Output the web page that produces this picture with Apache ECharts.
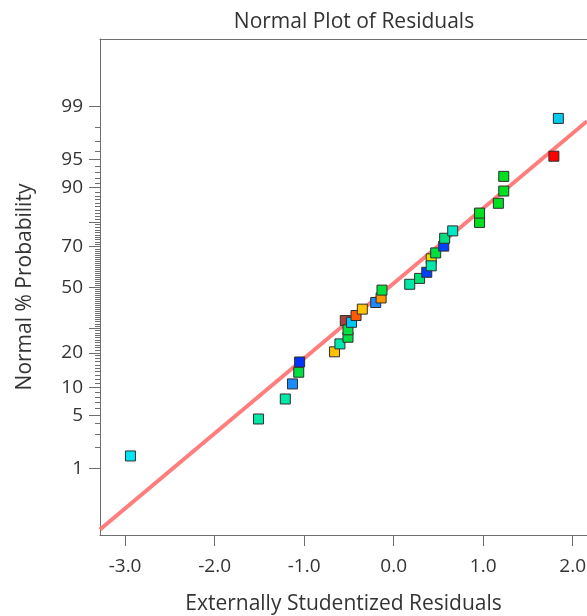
<!DOCTYPE html>
<html>
<head>
<meta charset="utf-8">
<script src="https://cdn.jsdelivr.net/npm/echarts@6/dist/echarts.min.js"></script>
<style>html,body{margin:0;padding:0;background:#fff;}#c{width:587px;height:616px;}</style>
</head>
<body>
<div id="c"></div>
<script>
// Residuals (x) and normal probability in percent (y)
const residuals = [-2.94, -1.51, -1.21, -1.13, -1.06, -1.05, -0.66, -0.60, -0.51, -0.51, -0.47, -0.54, -0.42, -0.35, -0.20, -0.14, -0.13, 0.18, 0.29, 0.37, 0.42, 0.42, 0.47, 0.56, 0.57, 0.66, 0.96, 0.96, 1.17, 1.23, 1.23, 1.79, 1.84];
const probabilities = [1.52, 4.55, 7.59, 10.75, 13.8, 16.9, 20.4, 23.4, 26.1, 29.3, 32.7, 33.5, 35.9, 39.0, 42.3, 44.6, 48.6, 51.6, 54.6, 57.7, 60.9, 64.3, 67.1, 70.2, 73.6, 76.6, 79.8, 83.0, 86.0, 89.2, 92.3, 95.4, 98.5];
const pointColors = ['#00e4f4', '#00e8a8', '#00e8a8', '#1a8cff', '#00e040', '#0034ff', '#ffc000', '#00e8b0', '#00e040', '#00e040', '#00c8ff', '#b03c3c', '#ff5a00', '#ffc400', '#1a8cff', '#ff9400', '#00e040', '#00e8a8', '#00e070', '#0040ff', '#00e8a8', '#e8e000', '#00e040', '#0040ff', '#00e080', '#00e8c8', '#00e020', '#00e020', '#00e020', '#00e020', '#00e020', '#ff0000', '#00ccee'];
// draw order (hidden markers first)
const drawOrder = [11, 21, 0, 1, 2, 3, 4, 5, 6, 7, 8, 9, 10, 12, 13, 14, 15, 16, 17, 18, 19, 20, 22, 23, 24, 25, 26, 27, 28, 29, 30, 31, 32];
// Fit line endpoints: residual, percent
const fitLineResid = [-3.28, 2.16];
const fitLinePct = [0.0939, 98.36];
// Axis ticks
const xTickValues = [-3, -2, -1, 0, 1, 2];
const yLabelPcts = [1, 5, 10, 20, 50, 70, 90, 95, 99];
const yMediumPcts = [30, 80];
const yMinorPcts = [2,3,4,6,7,8,9,11,12,13,14,15,16,17,18,19,21,22,23,24,25,26,27,28,29,31,32,33,34,35,36,37,38,39,40,41,42,43,44,45,46,47,48,49,51,52,53,54,55,56,57,58,59,60,61,62,63,64,65,66,67,68,69,71,72,73,74,75,76,77,78,79,81,82,83,84,85,86,87,88,89,91,92,93,94,96,97,98];

// probit (inverse normal CDF), Acklam
function probit(p) {
  const a=[-3.969683028665376e+01,2.209460984245205e+02,-2.759285104469687e+02,1.383577518672690e+02,-3.066479806614716e+01,2.506628277459239e+00];
  const b=[-5.447609879822406e+01,1.615858368580409e+02,-1.556989798598866e+02,6.680131188771972e+01,-1.328068155288572e+01];
  const c=[-7.784894002430293e-03,-3.223964580411365e-01,-2.400758277161838e+00,-2.549732539343734e+00,4.374664141464968e+00,2.938163982698783e+00];
  const d=[7.784695709041462e-03,3.224671290700398e-01,2.445134137142996e+00,3.754408661907416e+00];
  const pl=0.02425, ph=1-pl; let q,r;
  if (p<pl){q=Math.sqrt(-2*Math.log(p));return (((((c[0]*q+c[1])*q+c[2])*q+c[3])*q+c[4])*q+c[5])/((((d[0]*q+d[1])*q+d[2])*q+d[3])*q+1);}
  if (p<=ph){q=p-0.5;r=q*q;return (((((a[0]*r+a[1])*r+a[2])*r+a[3])*r+a[4])*r+a[5])*q/(((((b[0]*r+b[1])*r+b[2])*r+b[3])*r+b[4])*r+1);}
  q=Math.sqrt(-2*Math.log(1-p));return -(((((c[0]*q+c[1])*q+c[2])*q+c[3])*q+c[4])*q+c[5])/((((d[0]*q+d[1])*q+d[2])*q+d[3])*q+1);
}
const z = pct => probit(pct/100);

const FONT = '"Open Sans", "Noto Sans", sans-serif';
const TXT = '#333333';
const AX = '#6e6e6e';

const scatterData = drawOrder.map(i => ({
  value: [residuals[i], z(probabilities[i])],
  itemStyle: { color: pointColors[i] }
}));

const labelZ = yLabelPcts.map(z);
const X_MIN = -3.28, X_MAX = 2.16, Y_MIN = -3.18, Y_MAX = 3.19;
const chart = echarts.init(document.getElementById('c'), null, {renderer: 'canvas'});
chart.setOption({
  animation: false,
  backgroundColor: '#fff',
  title: {
    text: 'Normal Plot of Residuals',
    left: 349, top: 7, textAlign: 'center',
    textStyle: { fontFamily: FONT, fontSize: 21, fontWeight: 'normal', color: TXT }
  },
  grid: { left: 100, right: 0, top: 39, bottom: 81, show: false, containLabel: false, outerBoundsMode: 'none' },
  xAxis: [{
    type: 'value', min: X_MIN, max: X_MAX, position: 'bottom',
    name: 'Externally Studentized Residuals', nameLocation: 'middle', nameGap: 59,
    nameTextStyle: { fontFamily: FONT, fontSize: 21, color: TXT },
    axisLine: { show: true, onZero: false, lineStyle: { color: AX, width: 1 } },
    axisTick: { show: true, length: 11, customValues: xTickValues, lineStyle: { color: AX } },
    axisLabel: { customValues: xTickValues, margin: 22, fontFamily: FONT, fontSize: 19, color: TXT, formatter: v => v.toFixed(1) },
    splitLine: { show: false }
  }, {
    type: 'value', min: X_MIN, max: X_MAX, position: 'top',
    axisLine: { show: true, onZero: false, lineStyle: { color: AX, width: 1 } },
    axisTick: { show: false }, axisLabel: { show: false }, splitLine: { show: false }
  }],
  yAxis: [{
    type: 'value', min: Y_MIN, max: Y_MAX, position: 'left',
    name: 'Normal % Probability', nameLocation: 'middle', nameGap: 64,
    nameTextStyle: { fontFamily: FONT, fontSize: 21, color: TXT },
    axisLine: { show: true, onZero: false, lineStyle: { color: AX, width: 1 } },
    axisTick: { show: true, length: 11, customValues: labelZ.concat(yMediumPcts.map(z)), lineStyle: { color: AX } },
    axisLabel: { customValues: labelZ, margin: 17, fontFamily: FONT, fontSize: 19, color: TXT,
      formatter: v => { let best = yLabelPcts[0], bd = 1e9; yLabelPcts.forEach(p => { const d = Math.abs(z(p) - v); if (d < bd) { bd = d; best = p; } }); return String(best); } },
    splitLine: { show: false }
  }, {
    type: 'value', min: Y_MIN, max: Y_MAX, position: 'left', offset: 0,
    axisLine: { show: false, onZero: false },
    axisTick: { show: true, length: 5, customValues: yMinorPcts.map(z), lineStyle: { color: AX } },
    axisLabel: { show: false },
    splitLine: { show: false }
  }],
  series: [{
    type: 'line',
    data: fitLineResid.map((r, i) => [r, z(fitLinePct[i])]),
    symbol: 'none', clip: true,
    lineStyle: { color: '#ff7676', width: 4, opacity: 0.95 },
    z: 2
  }, {
    type: 'scatter',
    data: scatterData,
    symbol: 'rect', symbolSize: 10,
    itemStyle: { borderColor: '#2e2e2e', borderWidth: 1, opacity: 1 },
    z: 3
  }]
});
</script>
</body>
</html>
